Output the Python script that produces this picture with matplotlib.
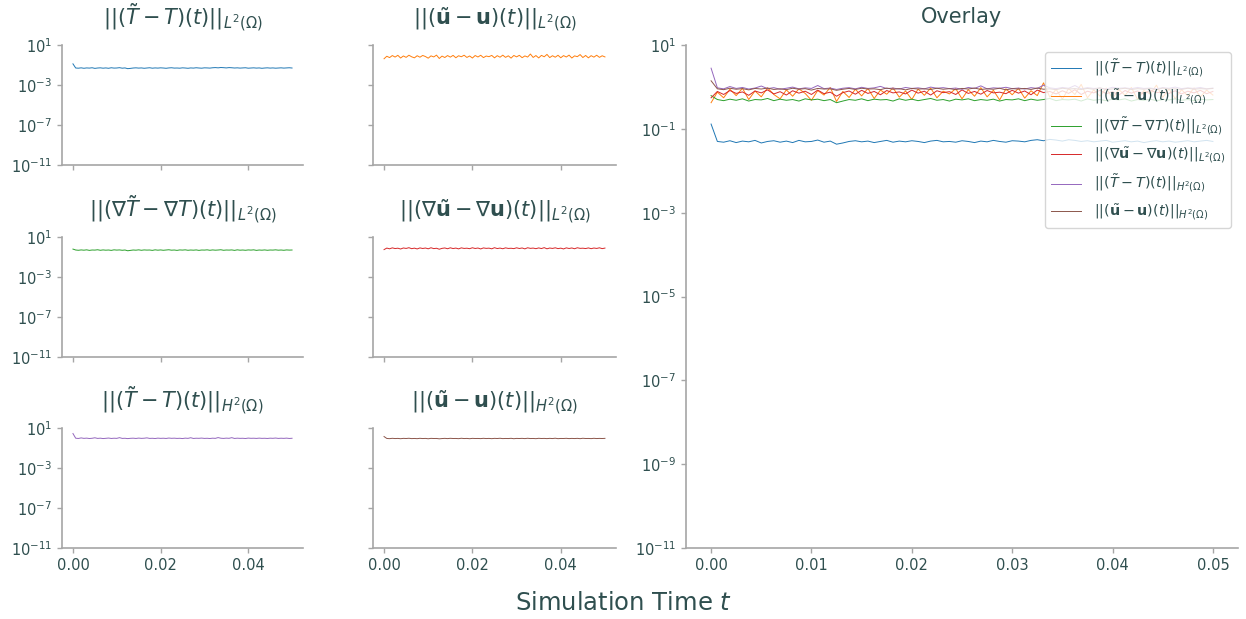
import numpy as np
import matplotlib
matplotlib.use("Agg")
import matplotlib.pyplot as plt

#%%

textColor = "#2F4F4F"
spineColor = "#A6A6A6"

plt.rcParams["text.color"] = textColor
plt.rcParams["axes.labelcolor"] = textColor
plt.rcParams["xtick.color"] = spineColor
plt.rcParams["ytick.color"] = spineColor
plt.rcParams["xtick.labelcolor"] = textColor
plt.rcParams["ytick.labelcolor"] = textColor
plt.rcParams["axes.edgecolor"] = spineColor
plt.rcParams["mathtext.fontset"] = "dejavusans"

#%%

# Error norms sampled over simulation time [0, 0.05]
errTL2 = [0.13, 0.050, 0.048, 0.052, 0.047, 0.051, 0.049, 0.053, 0.046, 0.050, 0.052, 0.048, 0.051, 0.047,
          0.053, 0.049, 0.050, 0.054, 0.048, 0.051, 0.043, 0.046, 0.050, 0.052, 0.049, 0.051, 0.047, 0.050,
          0.053, 0.048, 0.051, 0.049, 0.052, 0.050, 0.047, 0.051, 0.053, 0.049, 0.050, 0.048, 0.052, 0.050,
          0.047, 0.051, 0.049, 0.053, 0.050, 0.048, 0.052, 0.051, 0.049, 0.053, 0.055, 0.052, 0.056, 0.054,
          0.051, 0.055, 0.053, 0.050, 0.052, 0.049, 0.051, 0.053, 0.048, 0.050, 0.052, 0.049, 0.051, 0.047,
          0.050, 0.052, 0.049, 0.051, 0.048, 0.050, 0.052, 0.049, 0.051, 0.053, 0.050]
errUL2 = [0.42, 0.75, 0.55, 0.88, 0.62, 0.93, 0.50, 0.80, 0.58, 0.95, 0.66, 0.52, 0.85, 0.60, 0.90, 0.70,
          0.48, 0.82, 0.64, 0.97, 0.45, 0.78, 0.56, 0.88, 0.61, 0.92, 0.53, 0.84, 0.67, 0.95, 0.57, 0.80,
          0.50, 0.89, 0.63, 0.94, 0.55, 0.79, 0.68, 0.91, 0.52, 0.86, 0.60, 0.96, 0.58, 0.83, 0.49, 0.90,
          0.65, 0.93, 0.54, 0.81, 0.62, 1.25, 0.57, 0.88, 0.51, 0.92, 0.66, 1.15, 0.55, 0.85, 0.60, 0.94,
          0.53, 0.87, 0.63, 0.97, 0.50, 0.82, 0.68, 1.10, 0.56, 0.90, 0.52, 0.86, 0.61, 0.95, 0.58, 0.84, 0.64]
errGradTL2 = [0.62, 0.50, 0.47, 0.51, 0.48, 0.52, 0.46, 0.50, 0.49, 0.53, 0.47, 0.51, 0.48, 0.50, 0.46, 0.52,
              0.49, 0.51, 0.47, 0.50, 0.42, 0.46, 0.50, 0.48, 0.52, 0.47, 0.51, 0.49, 0.50, 0.46, 0.52, 0.48,
              0.51, 0.47, 0.50, 0.53, 0.48, 0.50, 0.46, 0.51, 0.49, 0.52, 0.47, 0.50, 0.48, 0.51, 0.46, 0.50,
              0.49, 0.52, 0.47, 0.51, 0.48, 0.50, 0.53, 0.47, 0.50, 0.49, 0.51, 0.46, 0.52, 0.48, 0.50, 0.47,
              0.51, 0.49, 0.52, 0.46, 0.50, 0.48, 0.51, 0.47, 0.50, 0.49, 0.52, 0.48, 0.50, 0.47, 0.51, 0.49, 0.50]
errGradUL2 = [0.55, 0.78, 0.66, 0.82, 0.70, 0.76, 0.63, 0.80, 0.72, 0.85, 0.68, 0.77, 0.64, 0.81, 0.71, 0.79,
              0.66, 0.84, 0.69, 0.75, 0.60, 0.73, 0.80, 0.67, 0.83, 0.70, 0.78, 0.65, 0.82, 0.72, 0.76, 0.68,
              0.84, 0.71, 0.79, 0.64, 0.81, 0.73, 0.77, 0.66, 0.85, 0.70, 0.78, 0.67, 0.82, 0.72, 0.75, 0.69,
              0.83, 0.71, 0.80, 0.65, 0.84, 0.73, 0.78, 0.68, 0.81, 0.70, 0.86, 0.66, 0.79, 0.72, 0.83, 0.69,
              0.77, 0.64, 0.82, 0.71, 0.80, 0.67, 0.84, 0.73, 0.76, 0.70, 0.81, 0.68, 0.79, 0.72, 0.83, 0.69, 0.78]
errTH2 = [2.8, 0.95, 0.90, 1.02, 0.92, 0.97, 0.89, 0.94, 1.05, 0.91, 0.96, 0.88, 0.93, 0.99, 0.90, 0.95,
          0.92, 1.08, 0.91, 0.94, 0.87, 0.93, 0.96, 0.90, 0.98, 0.92, 0.95, 1.03, 0.91, 0.94, 0.89, 0.97,
          0.92, 0.95, 0.90, 0.99, 0.93, 0.96, 0.91, 0.94, 0.88, 0.97, 0.92, 1.06, 0.90, 0.95, 0.93, 0.98,
          0.91, 0.94, 0.89, 0.96, 0.92, 1.10, 0.95, 0.91, 0.97, 0.93, 1.08, 0.90, 0.96, 0.92, 0.94, 0.89,
          0.98, 0.93, 0.95, 0.91, 0.97, 0.92, 0.94, 0.90, 0.96, 0.93, 0.99, 0.91, 0.95, 0.92, 0.97, 0.90, 0.94]
errUH2 = [1.4, 0.90, 0.86, 0.93, 0.88, 0.91, 0.85, 0.92, 0.89, 0.94, 0.87, 0.90, 0.86, 0.93, 0.88, 0.91,
          0.84, 0.92, 0.89, 0.90, 0.83, 0.88, 0.92, 0.87, 0.93, 0.89, 0.90, 0.86, 0.94, 0.88, 0.91, 0.85,
          0.92, 0.89, 0.90, 0.87, 0.93, 0.88, 0.91, 0.86, 0.92, 0.89, 0.94, 0.87, 0.90, 0.88, 0.93, 0.85,
          0.91, 0.89, 0.92, 0.87, 0.94, 0.88, 0.90, 0.86, 0.93, 0.89, 0.91, 0.87, 0.92, 0.88, 0.95, 0.86,
          0.90, 0.89, 0.93, 0.87, 0.91, 0.88, 0.92, 0.86, 0.94, 0.89, 0.90, 0.87, 0.93, 0.88, 0.91, 0.89, 0.92]

tEnd = 0.05

labels = [r"$||(\tilde{T}-T)(t)||_{L^2(\Omega)}$",
          r"$||(\tilde{\mathbf{u}}-\mathbf{u})(t)||_{L^2(\Omega)}$",
          r"$||(\nabla\tilde{T}-\nabla T)(t)||_{L^2(\Omega)}$",
          r"$||(\nabla\tilde{\mathbf{u}}-\nabla\mathbf{u})(t)||_{L^2(\Omega)}$",
          r"$||(\tilde{T}-T)(t)||_{H^2(\Omega)}$",
          r"$||(\tilde{\mathbf{u}}-\mathbf{u})(t)||_{H^2(\Omega)}$"]
series = [errTL2, errUL2, errGradTL2, errGradUL2, errTH2, errUH2]
colors = ["C0", "C1", "C2", "C3", "C4", "C5"]

#%%

W, H = 1246, 619
fig = plt.figure(figsize=(W / 100, H / 100), dpi=100)

def px(left, top, right, bottom):
    return [left / W, 1 - bottom / H, (right - left) / W, (bottom - top) / H]

colPx = [(62, 303), (373, 616)]
rowPx = [(45, 165), (237, 357), (428, 548)]

def style(ax):
    ax.set_yscale("log")
    ax.set_ylim(1e-11, 10)
    ax.set_xlim(-0.0025, 0.0525)
    for s in ["top", "right"]:
        ax.spines[s].set_visible(False)
    ax.spines["left"].set_linewidth(1.2)
    ax.spines["bottom"].set_linewidth(1.2)
    ax.tick_params(which="both", labelsize=10.5, width=1.0)
    ax.tick_params(which="minor", left=False)

for i in range(6):
    r, c = divmod(i, 2)
    ax = fig.add_axes(px(colPx[c][0], rowPx[r][0], colPx[c][1], rowPx[r][1]))
    style(ax)
    t = np.linspace(0, tEnd, len(series[i]))
    ax.plot(t, series[i], color=colors[i], lw=0.7)
    ax.set_yticks([1e1, 1e-3, 1e-7, 1e-11])
    ax.set_xticks([0.0, 0.02, 0.04])
    ax.set_title(labels[i], fontsize=15, color=textColor, pad=14)
    if r < 2:
        ax.set_xticklabels([])
    else:
        ax.set_xticklabels(["0.00", "0.02", "0.04"])
    if c == 1:
        ax.set_yticklabels([])

axO = fig.add_axes(px(686, 45, 1238, 548))
style(axO)
for i in range(6):
    t = np.linspace(0, tEnd, len(series[i]))
    axO.plot(t, series[i], color=colors[i], lw=0.7, label=labels[i])
axO.set_yticks([1e1, 1e-1, 1e-3, 1e-5, 1e-7, 1e-9, 1e-11])
axO.set_xticks([0.0, 0.01, 0.02, 0.03, 0.04, 0.05])
axO.set_xticklabels(["0.00", "0.01", "0.02", "0.03", "0.04", "0.05"])
axO.set_title("Overlay", fontsize=15, color=textColor, pad=16)
leg = axO.legend(loc="upper right", fontsize=10.3, labelspacing=0.58, handlelength=2.1,
                 handletextpad=0.9, borderaxespad=0.5)
leg.get_frame().set_edgecolor("#CCCCCC")

fig.text(0.5, 0.015, r"Simulation Time $t$", ha="center", fontsize=17.5, color=textColor)

plt.savefig("out.png", dpi=100)
